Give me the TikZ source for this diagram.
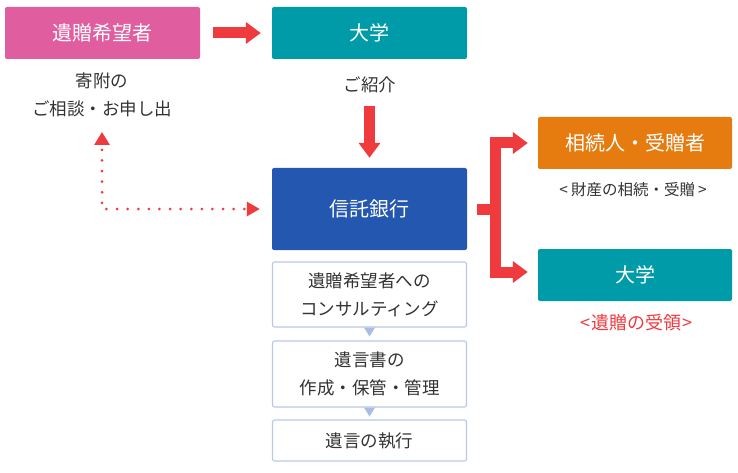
\documentclass[tikz,border=0pt]{standalone}
\usepackage{fontspec}
\setmainfont{Noto Sans CJK JP}
\usetikzlibrary{arrows.meta}
\definecolor{cpink}{RGB}{224,94,160}
\definecolor{cteal}{RGB}{0,155,168}
\definecolor{cblue}{RGB}{35,87,176}
\definecolor{corange}{RGB}{230,124,15}
\definecolor{cred}{RGB}{239,58,62}
\definecolor{cstepb}{RGB}{184,200,232}
\definecolor{ctri}{RGB}{169,188,226}
\definecolor{ctext}{RGB}{51,51,51}
\tikzset{
  colbox/.style={rectangle, rounded corners=2pt, minimum width=195pt, minimum height=52pt, inner sep=0pt, text=white, font=\fontsize{20}{24}\selectfont},
  stepbox/.style={rectangle, rounded corners=2pt, draw=cstepb, line width=1.1pt, fill=white, minimum width=194pt, inner sep=0pt, text=ctext, align=center, font=\fontsize{17.5}{28}\selectfont},
  lbl/.style={text=ctext, align=center, inner sep=0pt, font=\fontsize{17.5}{28}\selectfont},
  bigarrow/.style={draw=cred, line width=11pt, -{Triangle[length=15pt,width=21pt]}},
  bigline/.style={draw=cred, line width=11pt, line join=miter},
  dotarrow/.style={draw=cred, line width=3pt, line cap=round, dash pattern=on 0pt off 10.6pt, dash phase=5pt,
     {Triangle[length=13pt,width=15pt]}-{Triangle[length=13pt,width=14pt]}},
  steptri/.style={fill=ctri, draw=none}
}
\begin{document}
\begin{tikzpicture}[x=1pt,y=-1pt]
\useasboundingbox (0,0) rectangle (738,473);
% top row
\node[colbox, fill=cpink] (donor) at (102.5,33) {遺贈希望者};
\node[colbox, fill=cteal] (uni1) at (369.5,33) {大学};
\node[lbl] (consult) at (102,95) {寄附の\\ご相談・お申し出};
\node[lbl] (intro) at (370,85) {ご紹介};
% bank and steps
\node[colbox, fill=cblue, minimum height=82pt] (bank) at (369.5,209) {信託銀行};
\node[stepbox, minimum height=65pt] (s1) at (369.5,294.5) {遺贈希望者への\\コンサルティング};
\node[stepbox, minimum height=66pt] (s2) at (369.5,374) {遺言書の\\作成・保管・管理};
\node[stepbox, minimum height=41pt] (s3) at (369.5,440.5) {遺言の執行};
% right column
\node[colbox, fill=corange, minimum width=194pt] (heir) at (635,143) {相続人・受贈者};
\node[lbl, font=\fontsize{15.5}{20}\selectfont] (heirlbl) at (633,190) {<\hspace{3pt}財産の相続・受贈\hspace{3pt}>};
\node[colbox, fill=cteal, minimum width=194pt] (uni2) at (635,275) {大学};
\node[lbl, text=cred, font=\fontsize{18}{22}\selectfont] (unilbl) at (636,323) {<\hspace{1pt}遺贈の受領\hspace{1pt}>};
% step triangles
\fill[steptri] ([xshift=-5.5pt]s1.south) -- ([xshift=5.5pt]s1.south) -- ([yshift=-9pt]s1.south) -- cycle;
\fill[steptri] ([xshift=-5.5pt]s2.south) -- ([xshift=5.5pt]s2.south) -- ([yshift=-9pt]s2.south) -- cycle;
% arrows
\draw[bigarrow] ([xshift=13pt]donor.east) -- ([xshift=-11pt]uni1.west);
\coordinate (downstart) at (369.5,106);
\draw[bigarrow] (downstart) -- ([yshift=10pt]bank.north);
\coordinate (bx) at (495,209);
\draw[bigline] ([xshift=10pt]bank.east) -- (bx);
\draw[bigline, {Triangle[length=15pt,width=21pt]}-{Triangle[length=15pt,width=21pt]}]
  ([xshift=-10pt]heir.west) -| (bx) |- ([xshift=-10pt,yshift=3pt]uni2.west);
\coordinate (uptip) at (102,132);
\draw[dotarrow] (uptip) |- ([xshift=-12pt]bank.west);
\end{tikzpicture}
\end{document}
